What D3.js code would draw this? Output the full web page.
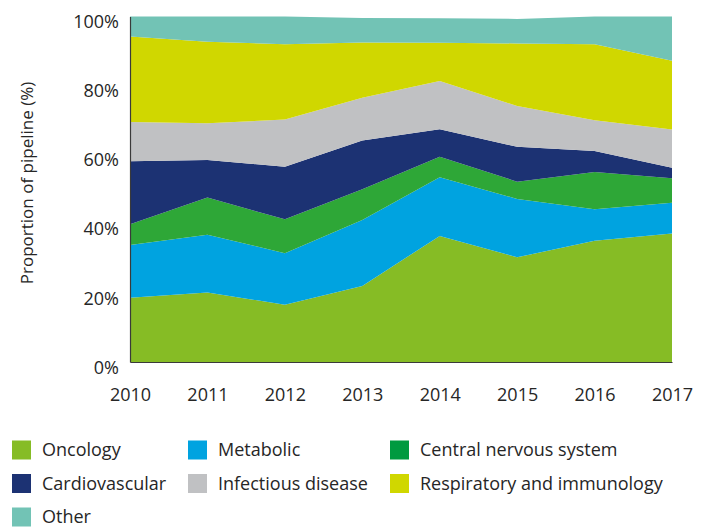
<!DOCTYPE html>
<html>
<head>
<meta charset="utf-8">
<script src="https://cdn.jsdelivr.net/npm/d3@7"></script>
<style>
    body { margin: 0; background: #fff; }
    svg text { font-family: "Open Sans", sans-serif; fill: #262626; }
</style>
</head>
<body>
<svg></svg>
<script>
const width = 707;
const height = 527;

const years = [2010, 2011, 2012, 2013, 2014, 2015, 2016, 2017];
const oncology = [18.6, 20.1, 16.6, 22.0, 36.5, 30.3, 35.1, 37.2];
const metabolic = [15.3, 16.7, 14.9, 19.1, 17.0, 16.9, 9.1, 8.9];
const cns = [6.0, 10.8, 9.8, 8.9, 5.9, 5.0, 10.8, 7.1];
const cardiovascular = [18.2, 10.9, 15.2, 14.1, 8.0, 10.1, 6.1, 3.0];
const infectious = [11.4, 10.6, 13.7, 12.4, 13.9, 11.8, 8.9, 11.1];
const respiratory = [24.7, 23.6, 21.8, 16.0, 11.1, 18.1, 22.0, 19.9];
const other = [5.8, 7.3, 8.0, 7.1, 7.1, 7.1, 8.0, 12.8];
const yTicks = [0, 20, 40, 60, 80, 100];

const series = [
    {key: "onc", name: "Oncology", values: oncology, fill: "#86bc25", swatch: "#86bc25"},
    {key: "met", name: "Metabolic", values: metabolic, fill: "#00a3e0", swatch: "#00a3e0"},
    {key: "cns", name: "Central nervous system", values: cns, fill: "#2ea737", swatch: "#009a40"},
    {key: "card", name: "Cardiovascular", values: cardiovascular, fill: "#1c3273", swatch: "#1c3273"},
    {key: "inf", name: "Infectious disease", values: infectious, fill: "#c0c1c3", swatch: "#c0c1c3"},
    {key: "resp", name: "Respiratory and immunology", values: respiratory, fill: "#d0d700", swatch: "#d0d700"},
    {key: "oth", name: "Other", values: other, fill: "#72c3b5", swatch: "#72c3b5"}
];

// table for d3.stack
let table = years.map((yr, i) => {
    let row = {year: yr};
    series.forEach(s => row[s.key] = s.values[i]);
    return row;
});

let stacked = d3.stack()
    .keys(series.map(s => s.key))(table);

let x = d3.scaleLinear()
    .domain([2010, 2017])
    .range([130, 672]);
let y = d3.scaleLinear()
    .domain([0, 100])
    .range([362, 16.5]);

let svg = d3.select("svg")
    .attr("width", width)
    .attr("height", height)
    .attr("viewBox", [0, 0, width, height]);

let area = d3.area()
    .x(d => x(d.data.year))
    .y0(d => y(d[0]))
    .y1(d => y(d[1]));

svg.append("g")
    .classed("areas", true)
    .selectAll("path")
    .data(stacked)
    .join("path")
    .attr("fill", (d, i) => series[i].fill)
    .attr("d", area);

// axes
let yAxis = d3.axisLeft(y)
    .tickValues(yTicks)
    .tickSize(0)
    .tickPadding(11)
    .tickFormat(d => d + "%");
let gy = svg.append("g")
    .attr("transform", "translate(130,0)")
    .call(yAxis);
gy.select(".domain").attr("stroke", "#3a3a3a").attr("stroke-width", 1.2);
gy.selectAll("text")
    .style("font-size", "18px")
    .attr("dy", "0.62em")
    .attr("fill", "#262626");

let xAxis = d3.axisBottom(x)
    .tickValues(years)
    .tickSize(0)
    .tickPadding(26)
    .tickFormat(d3.format("d"));
let gx = svg.append("g")
    .attr("transform", "translate(0,362)")
    .call(xAxis);
gx.select(".domain").attr("stroke", "#3a3a3a").attr("stroke-width", 1.2);
gx.selectAll("text")
    .style("font-size", "18px")
    .attr("fill", "#262626");

svg.append("text")
    .attr("transform", "translate(26,183) rotate(-90)")
    .attr("text-anchor", "middle")
    .attr("dominant-baseline", "central")
    .style("font-size", "17px")
    .text("Proportion of pipeline (%)");

// legend
const legendCols = [12, 188, 390];
const legendRows = [450, 483.5, 517];
let legend = svg.append("g")
    .classed("legend", true)
    .selectAll("g")
    .data(series)
    .join("g")
    .attr("transform", (d, i) => "translate(" + legendCols[i % 3] + "," + legendRows[Math.floor(i / 3)] + ")");
legend.append("rect")
    .attr("x", 0)
    .attr("y", -9.5)
    .attr("width", 19)
    .attr("height", 19)
    .attr("fill", d => d.swatch);
legend.append("text")
    .attr("x", 30)
    .attr("dy", "0.35em")
    .style("font-size", "18px")
    .text(d => d.name);
</script>
</body>
</html>
